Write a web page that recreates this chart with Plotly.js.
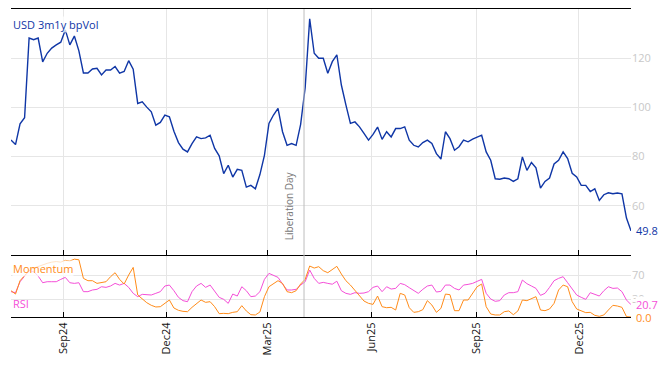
<!DOCTYPE html>
<html>
<head>
<meta charset="utf-8">
<script src="https://cdn.plot.ly/plotly-3.0.1.min.js"></script>
<style>
html,body{margin:0;padding:0;background:#fff;}
#chart{width:668px;height:366px;}
</style>
</head>
<body>
<div id="chart"></div>
<script>
const dates = [
"2024-07-17","2024-07-21","2024-07-25","2024-07-29","2024-08-02","2024-08-06","2024-08-10","2024-08-14","2024-08-18","2024-08-22",
"2024-08-26","2024-08-30","2024-09-03","2024-09-07","2024-09-11","2024-09-15","2024-09-19","2024-09-23","2024-09-27","2024-10-01",
"2024-10-05","2024-10-09","2024-10-13","2024-10-17","2024-10-21","2024-10-25","2024-10-29","2024-11-02","2024-11-06","2024-11-10",
"2024-11-14","2024-11-18","2024-11-22","2024-11-26","2024-11-30","2024-12-04","2024-12-08","2024-12-12","2024-12-16","2024-12-20",
"2024-12-24","2024-12-28","2025-01-01","2025-01-05","2025-01-09","2025-01-13","2025-01-17","2025-01-21","2025-01-25","2025-01-29",
"2025-02-02","2025-02-06","2025-02-10","2025-02-14","2025-02-18","2025-02-22","2025-02-26","2025-03-02","2025-03-06","2025-03-10",
"2025-03-14","2025-03-18","2025-03-22","2025-03-26","2025-03-30","2025-04-03","2025-04-07","2025-04-11","2025-04-15","2025-04-19",
"2025-04-23","2025-04-27","2025-05-01","2025-05-05","2025-05-09","2025-05-13","2025-05-17","2025-05-21","2025-05-25","2025-05-29",
"2025-06-02","2025-06-06","2025-06-10","2025-06-14","2025-06-18","2025-06-22","2025-06-26","2025-06-30","2025-07-04","2025-07-08",
"2025-07-12","2025-07-16","2025-07-20","2025-07-24","2025-07-28","2025-08-01","2025-08-05","2025-08-09","2025-08-13","2025-08-17",
"2025-08-21","2025-08-25","2025-08-29","2025-09-02","2025-09-06","2025-09-10","2025-09-14","2025-09-18","2025-09-22","2025-09-26",
"2025-09-30","2025-10-04","2025-10-08","2025-10-12","2025-10-16","2025-10-20","2025-10-24","2025-10-28","2025-11-01","2025-11-05",
"2025-11-09","2025-11-13","2025-11-17","2025-11-21","2025-11-25","2025-11-29","2025-12-03","2025-12-07","2025-12-11","2025-12-15",
"2025-12-19","2025-12-23","2025-12-27","2025-12-31","2026-01-04","2026-01-08","2026-01-12","2026-01-16"
];

const bpVol = [
86.7,84.9,93.3,95.8,128.2,127.5,128.2,118.5,122.0,124.1,
125.4,126.5,131.5,125.4,129.0,123.0,114.0,114.0,115.6,115.9,
113.2,115.2,115.2,116.6,113.9,114.6,119.0,115.5,101.6,102.3,
100.1,98.2,92.8,93.9,96.9,96.2,90.3,85.7,83.0,81.9,
85.3,88.0,87.3,87.6,88.7,83.3,80.3,73.1,76.5,71.7,
74.8,74.4,67.6,68.3,66.9,72.7,80.5,93.5,96.9,99.6,
90.1,84.6,85.3,84.6,93.1,108.0,136.0,122.0,120.0,120.0,
113.9,118.6,121.4,109.1,101.0,93.5,94.1,92.1,89.4,86.7,
89.0,92.0,87.0,90.1,88.0,91.4,91.4,92.1,86.7,84.6,
83.9,85.7,86.7,85.3,81.2,79.0,90.1,87.3,82.6,84.0,
86.7,86.0,87.1,88.0,88.7,81.9,78.5,71.0,70.8,71.3,
71.0,69.9,71.0,79.9,74.4,77.6,75.4,67.2,69.9,71.3,
77.0,78.5,81.9,79.2,73.2,71.7,68.3,68.3,65.8,66.9,
62.2,64.5,65.3,64.9,65.2,64.9,55.0,49.8
];

const momentum = [
44.1,38.5,60.9,68.7,78,82,85,88,90,92,
93,92,95,94,97,96,64.8,60.9,60.9,56.4,
58.1,59.2,67.6,74.3,63.1,55.3,70.4,83.2,36.9,30.2,
24.0,19.6,16.8,17.3,22.9,28.5,15.1,11.2,9.5,8.9,
16.2,22.9,28.5,24.6,25.7,17.3,5.6,6.1,5.6,7.8,
8.9,19.0,10.1,3.9,3.4,8.4,34.1,50.8,56.4,60.9,
56.4,42.5,40.8,44.1,55.3,63.1,85.5,82.1,84.4,77.7,
74.3,80,85,72.1,60.9,53.6,44.1,35.8,26.8,22.9,
21.2,35.2,17.3,15.6,16.2,11.7,39.7,36.9,15.6,7.8,
8.9,12.3,27.4,20.1,7.8,14.5,38.5,37.4,10.6,10.6,
28.5,28.5,39.7,50.8,55.3,17.3,5.0,3.4,3.4,8.9,
10.1,3.9,10.1,28.5,27.4,31.3,34.1,11.7,10.6,13.4,
22.9,45.3,53.6,50.8,25.7,13.4,10.6,7.3,7.8,2.8,
1.1,3.4,11.7,19.6,18.4,16.2,0.6,0.0
];

const rsi = [
42.5,40.8,59.2,67.6,77.7,76.0,68.7,57.5,59.2,59.2,
59.2,63.1,66.5,57.5,56.4,57.5,42.5,42.5,45.3,46.4,
50.8,49.7,52.0,56.4,53.6,56.4,49.7,39.7,34.1,38.0,
38.0,36.9,39.7,42.5,52.0,53.6,44.1,33.0,27.4,25.7,
42.5,52.0,56.4,49.7,53.6,42.5,33.0,29.6,22.9,38.5,
35.2,50.8,44.1,34.1,35.2,42.5,63.1,73.2,70.4,66.5,
55.3,45.3,45.3,46.4,53.6,59.2,78.8,64.8,56.4,58.1,
56.4,55,60,44.1,39.7,38.0,40.8,39.7,40.2,42.5,
49.7,52.0,42.5,50.8,46.9,48.0,56.4,54.2,49.2,44.1,
39.7,46.4,52.0,53.6,41.9,43.0,53.6,53.6,48.0,45.3,
53.6,54.7,56.4,59.8,63.1,39.7,30.2,26.3,27.4,36.9,
40.8,40.8,42.5,62.0,55.9,52.0,48.0,36.3,39.7,49.7,
60.9,64.8,67.6,57.5,48.0,36.9,33.0,29.6,40.8,38.5,
35.2,44.1,50.8,48.0,48.6,42.5,28.5,20.7
];

const eventDate = "2025-04-02";
const eventLabel = "Liberation Day";
const mainName = "USD 3m1y bpVol";
const topTicks = [60, 80, 100, 120];
const bottomTicks = [30, 70];

const BLUE = "#0f36a6";
const ORANGE = "#ff8c1a";
const PINK = "#f54fd8";
const GRID = "#e6e6e6";
const TICKGRAY = "#c8c8c8";
const FONT = "Open Sans, Noto Sans, sans-serif";

const split = 62/308;

const traces = [
  {x: dates, y: bpVol, type: "scatter", mode: "lines", xaxis: "x2", yaxis: "y",
   line: {color: BLUE, width: 1.4}, hoverinfo: "skip"},
  {x: dates, y: rsi, type: "scatter", mode: "lines", xaxis: "x", yaxis: "y2",
   line: {color: PINK, width: 1}, hoverinfo: "skip"},
  {x: dates, y: momentum, type: "scatter", mode: "lines", xaxis: "x", yaxis: "y2",
   line: {color: ORANGE, width: 1}, hoverinfo: "skip"}
];

const xCommon = {
  type: "date",
  range: [dates[0], dates[dates.length-1]],
  tick0: "2024-09-01", dtick: "M3",
  showgrid: true, gridcolor: GRID, gridwidth: 1,
  showline: true, linecolor: "#000", linewidth: 1,
  ticks: "inside", ticklen: 5, tickcolor: "#000",
  zeroline: false
};

const layout = {
  width: 668, height: 366,
  margin: {l: 11, r: 37, t: 9, b: 49},
  paper_bgcolor: "#fff", plot_bgcolor: "#fff",
  showlegend: false,
  font: {family: FONT, size: 11, color: "#222"},
  xaxis: Object.assign({}, xCommon, {
    anchor: "y2", tickformat: "%b%y", tickangle: -90,
    tickfont: {family: FONT, size: 11, color: "#111"}
  }),
  xaxis2: Object.assign({}, xCommon, {
    anchor: "y", matches: "x", showticklabels: false, mirror: true
  }),
  yaxis: {
    domain: [split, 1], range: [40, 140], side: "right",
    tickvals: topTicks, showgrid: true, gridcolor: GRID,
    showline: false, zeroline: false, ticks: "",
    tickfont: {family: FONT, size: 11, color: TICKGRAY}
  },
  yaxis2: {
    domain: [0, split], range: [0, 104], side: "right",
    tickvals: bottomTicks, showgrid: true, gridcolor: GRID,
    showline: false, zeroline: false, ticks: "",
    tickfont: {family: FONT, size: 11, color: TICKGRAY}
  },
  shapes: [
    {type: "line", xref: "x", yref: "paper", x0: eventDate, x1: eventDate, y0: 0, y1: 1,
     line: {color: "#bdbdbd", width: 1}, layer: "above"}
  ],
  annotations: [
    {text: eventLabel, xref: "x2", yref: "y", x: eventDate, y: 45, xanchor: "right", yanchor: "bottom",
     textangle: -90, showarrow: false, xshift: -6, font: {family: FONT, size: 10, color: "#777"}},
    {text: mainName, xref: "paper", yref: "paper", x: 0, y: 1, xanchor: "left", yanchor: "top",
     xshift: 1, yshift: -7, showarrow: false, bgcolor: "rgba(255,255,255,0.75)", borderpad: 0,
     font: {family: FONT, size: 11, color: BLUE}},
    {text: "Momentum", xref: "paper", yref: "paper", x: 0, y: split, xanchor: "left", yanchor: "top",
     xshift: 1, yshift: -5, showarrow: false, bgcolor: "rgba(255,255,255,0.75)", borderpad: 0,
     font: {family: FONT, size: 11, color: ORANGE}},
    {text: "RSI", xref: "paper", yref: "paper", x: 0, y: 0, xanchor: "left", yanchor: "bottom",
     xshift: 1, yshift: 5, showarrow: false, borderpad: 0,
     font: {family: FONT, size: 11, color: PINK}},
    {text: bpVol[bpVol.length-1].toFixed(1), xref: "paper", yref: "y", x: 1, y: bpVol[bpVol.length-1],
     xanchor: "left", yanchor: "middle", xshift: 4, showarrow: false, bgcolor: "#fff", borderpad: 0,
     font: {family: FONT, size: 11, color: BLUE}},
    {text: rsi[rsi.length-1].toFixed(1), xref: "paper", yref: "y2", x: 1, y: rsi[rsi.length-1],
     xanchor: "left", yanchor: "middle", xshift: 4, showarrow: false, bgcolor: "#fff", borderpad: 0,
     font: {family: FONT, size: 11, color: PINK}},
    {text: momentum[momentum.length-1].toFixed(1), xref: "paper", yref: "y2", x: 1, y: momentum[momentum.length-1],
     xanchor: "left", yanchor: "middle", xshift: 4, showarrow: false, bgcolor: "#fff", borderpad: 0,
     font: {family: FONT, size: 11, color: ORANGE}}
  ]
};

Plotly.newPlot("chart", traces, layout, {displayModeBar: false, staticPlot: true});
</script>
</body>
</html>
